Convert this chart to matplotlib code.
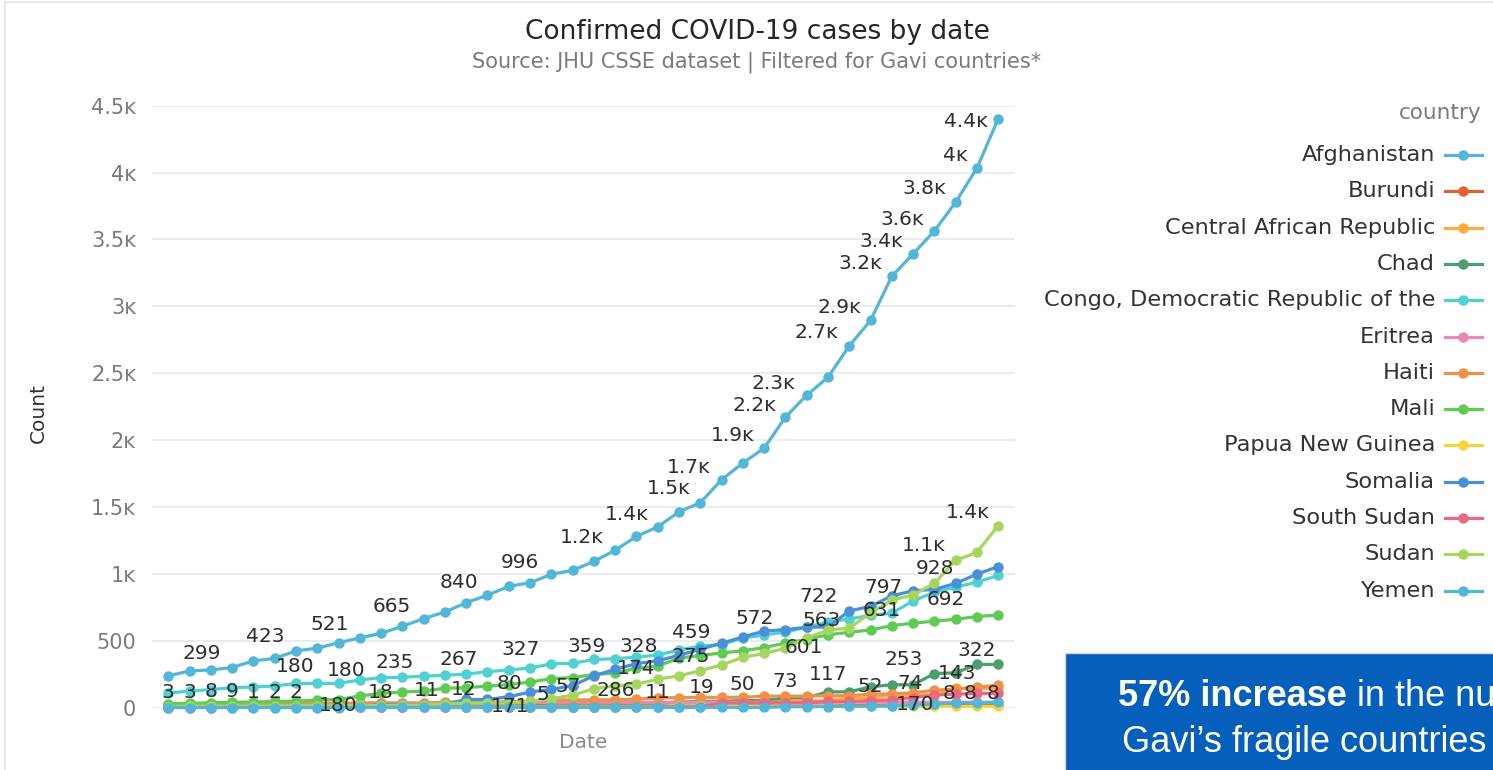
import numpy as np
import matplotlib
matplotlib.use("Agg")
import matplotlib.pyplot as plt
from matplotlib.lines import Line2D
from matplotlib.patches import Rectangle

plt.rcParams['font.family'] = ['DejaVu Sans']

# daily cumulative confirmed cases, Apr 1 .. May 10
countries = ["Afghanistan", "Burundi", "Central African Republic", "Chad",
             "Congo, Democratic Republic of the", "Eritrea", "Haiti", "Mali",
             "Papua New Guinea", "Somalia", "South Sudan", "Sudan", "Yemen"]
colors = ["#52b6d9", "#e2612f", "#ffab3d", "#4c9e6f", "#4fd0d2", "#e78bb6",
          "#f09149", "#5ecb53", "#f4d53e", "#4a8fd9", "#ea697e", "#a6d65d", "#52b6d9"]

afghanistan = [237, 273, 281, 299, 349, 367, 423, 444, 484, 521, 555, 607, 665, 714, 784, 840,
               906, 933, 996, 1026, 1092, 1176, 1279, 1351, 1463, 1531, 1703, 1828, 1939, 2171,
               2335, 2469, 2704, 2894, 3224, 3392, 3563, 3778, 4033, 4402]
burundi = [3, 3, 3, 3, 3, 3, 3, 3, 3, 3, 5, 5, 5, 5, 5, 5, 5, 5, 5, 5, 5, 5, 11, 11, 11, 11,
           11, 11, 11, 11, 11, 11, 15, 15, 15, 15, 15, 19, 19, 19]
car = [8, 8, 8, 9, 9, 9, 9, 9, 9, 9, 11, 11, 11, 11, 12, 12, 12, 12, 12, 12, 12, 14, 14, 16,
       16, 19, 19, 50, 50, 50, 50, 50, 72, 72, 94, 94, 94, 143, 143, 143]
chad = [8, 9, 9, 9, 9, 9, 10, 10, 10, 11, 18, 18, 18, 18, 23, 23, 23, 27, 33, 33, 33, 33, 33,
        33, 40, 46, 46, 52, 52, 73, 73, 117, 117, 155, 170, 170, 253, 260, 322, 322]
congo = [109, 123, 134, 148, 154, 161, 180, 180, 180, 206, 223, 226, 235, 241, 250, 267, 282,
         294, 327, 330, 359, 365, 377, 392, 430, 459, 471, 519, 542, 564, 600, 640, 661, 691,
         705, 797, 863, 900, 937, 988]
eritrea = [15, 18, 22, 22, 29, 29, 29, 31, 31, 33, 34, 34, 34, 34, 35, 35, 35, 35, 39, 39, 39,
           39, 39, 39, 39, 39, 39, 39, 39, 39, 39, 39, 39, 39, 39, 39, 39, 39, 39, 39]
haiti = [15, 16, 18, 21, 21, 24, 24, 25, 30, 31, 33, 33, 33, 40, 40, 40, 43, 47, 57, 57, 57, 58,
         62, 72, 74, 76, 76, 76, 85, 85, 85, 88, 88, 100, 101, 110, 129, 138, 151, 168]
mali = [28, 31, 36, 39, 41, 45, 47, 56, 59, 87, 105, 116, 123, 144, 148, 160, 171, 190, 216,
        224, 246, 258, 293, 309, 370, 389, 408, 424, 448, 482, 508, 544, 563, 580, 612, 631,
        645, 660, 680, 692]
png = [1, 1, 1, 1, 1, 2, 2, 2, 2, 2, 2, 2, 2, 2, 2, 2, 7, 7, 7, 7, 7, 7, 7, 7, 8, 8, 8, 8, 8,
       8, 8, 8, 8, 8, 8, 8, 8, 8, 8, 8]
somalia = [5, 5, 7, 7, 7, 7, 7, 7, 12, 12, 21, 21, 21, 25, 60, 60, 80, 116, 135, 164, 237, 286,
           328, 350, 390, 436, 480, 528, 572, 582, 601, 601, 722, 756, 835, 873, 883, 928, 997,
           1054]
south_sudan = [0, 0, 0, 0, 1, 1, 1, 1, 1, 2, 3, 4, 4, 4, 4, 4, 4, 4, 4, 4, 4, 4, 4, 5, 5, 6,
               34, 34, 34, 35, 35, 45, 46, 52, 58, 74, 94, 100, 106, 106]
sudan = [7, 10, 10, 10, 10, 12, 12, 14, 14, 15, 15, 17, 19, 29, 32, 32, 33, 45, 66, 92, 140,
         162, 174, 212, 237, 275, 318, 375, 405, 442, 519, 579, 594, 706, 803, 841, 928, 1100,
         1160, 1360]
yemen = [0, 0, 0, 0, 0, 0, 0, 0, 0, 1, 1, 1, 1, 1, 1, 1, 1, 1, 1, 1, 1, 1, 1, 1, 1, 1, 1, 1, 1,
         6, 6, 7, 10, 10, 12, 21, 25, 34, 34, 40]

series = [afghanistan, burundi, car, chad, congo, eritrea, haiti, mali, png, somalia,
          south_sudan, sudan, yemen]

# data labels: (country index, point index, dx px, dy px)
labels = [
    (0, 3, -30, 14), (0, 6, -31, 14), (0, 9, -30, 13), (0, 12, -32, 12), (0, 15, -29, 13),
    (0, 18, -31, 12), (0, 21, -33, 13), (0, 23, -31, 12), (0, 25, -32, 14), (0, 26, -33, 12),
    (0, 28, -31, 13), (0, 29, -31, 12), (0, 30, -33, 12), (0, 32, -33, 13), (0, 33, -31, 13),
    (0, 34, -31, 13), (0, 35, -32, 12), (0, 36, -32, 12), (0, 37, -31, 14), (0, 38, -22, 13),
    (0, 39, -32, -3),
    (1, 0, 0, 15), (1, 1, 0, 15), (2, 2, 0, 15), (2, 3, 0, 15), (8, 4, 0, 15), (8, 5, 0, 15),
    (8, 6, 0, 15),
    (4, 6, -1, 17), (4, 7, 21, -22), (4, 8, 8, 13), (3, 10, 0, 13), (2, 12, 3, 16),
    (2, 14, -3, 16), (4, 12, -29, 14), (4, 15, -29, 12), (4, 18, -31, 14), (9, 16, 1, 13),
    (7, 16, 1, -22), (1, 18, -8, 12), (6, 19, -4, 13), (4, 20, -7, 13), (9, 21, 1, -21),
    (9, 22, 2, 17), (11, 22, 0, 16), (1, 23, 0, 14), (2, 25, 1, 17), (4, 25, -9, 14),
    (11, 25, -10, 14), (2, 27, -1, 16), (9, 28, -9, 13), (3, 29, 0, 16), (9, 30, -3, -20),
    (3, 31, 0, 17), (9, 32, -31, 14), (7, 32, -28, 12), (10, 33, 0, 14), (3, 35, 2, -20),
    (10, 35, -3, 14), (3, 36, -31, 14), (4, 35, -30, 13), (7, 35, -31, 13), (11, 36, 1, 15),
    (11, 37, -32, 15), (2, 37, 1, 15), (8, 37, -7, 13), (8, 38, -7, 13), (8, 39, -5, 13),
    (3, 38, 0, 14), (7, 39, -52, 15), (11, 39, -30, 13),
]


def fmt(v):
    if v >= 1000:
        return f"{v / 1000:.1f}".rstrip("0").rstrip(".") + "\u1d0b"
    return str(v)


W, H = 1493, 770
fig = plt.figure(figsize=(W / 100, H / 100), dpi=100)

# outer frame
fig.patches.append(Rectangle((5 / W, -0.05), 1.2, 1.05 - 2 / H, transform=fig.transFigure,
                             fill=False, ec="#e4e9f0", lw=1.5))

ax = fig.add_axes([151.5 / W, 1 - 707.5 / H, (1015 - 151.5) / W, (707.5 - 105.7) / H])
for name, vals, c in zip(countries, series, colors):
    x = np.arange(len(vals))
    ax.plot(x, vals, color=c, lw=2.3, marker="o", ms=6.5, clip_on=False, label=name)

for ci, i, dx, dy in labels:
    v = series[ci][i]
    ax.annotate(fmt(v), (i, v), xytext=(dx, dy), textcoords="offset pixels",
                ha="center", va="center", fontsize=14.5, color="#2e2e2e")

ax.set_xlim(-0.79, 39.79)
ax.set_ylim(0, 4500)
yt = np.arange(0, 4501, 500)
ax.set_yticks(yt)
ax.set_yticklabels([fmt(int(t)) for t in yt], fontsize=15, color="#7a7a7a")
ax.set_xticks([])
ax.tick_params(axis="y", length=0, pad=11)
ax.grid(axis="y", color="#e5eaf0", lw=1.3)
ax.set_axisbelow(True)
for s in ax.spines.values():
    s.set_visible(False)

ax.set_xlabel("Date", fontsize=14.5, color="#8a8a8a", labelpad=18)
ax.set_ylabel("Count", fontsize=14.5, color="#333333")
ax.yaxis.set_label_coords(-0.12, 0.49)

fig.text(757 / W, 1 - 32 / H, "Confirmed COVID-19 cases by date", ha="center", va="center",
         fontsize=19, color="#262626")
fig.text(757 / W, 1 - 62 / H, "Source: JHU CSSE dataset | Filtered for Gavi countries*",
         ha="center", va="center", fontsize=15, color="#7a7a7a")

# legend drawn on the right, text right-aligned with the handle after it
fig.text(1482 / W, 1 - 113 / H, "country", ha="right", va="center", fontsize=15.5,
         color="#7a7a7a")
for k, (name, c) in enumerate(zip(countries, colors)):
    y = 1 - (155 + 36.3 * k) / H
    fig.text(1435 / W, y, name, ha="right", va="center", fontsize=16.2, color="#333333")
    fig.add_artist(Line2D([1445 / W, 1482 / W], [y, y], color=c, lw=2.3))
    fig.add_artist(Line2D([1463 / W], [y], color=c, marker="o", ms=6.5))

# callout box from the slide
fig.patches.append(Rectangle((1065 / W, -0.05), 0.4, 0.05 + 1 - 653 / H,
                             transform=fig.transFigure, fc="#065fba", ec="#cfd8e3", lw=1))
t1 = fig.text(1118 / W, 1 - 697 / H, "57% increase", ha="left", va="center",
              fontsize=26, fontweight="bold", color="white", family="Liberation Sans")
fig.canvas.draw()
bb = t1.get_window_extent(fig.canvas.get_renderer())
fig.text(bb.x1 / W, 1 - 697 / H, " in the nu", ha="left", va="center", fontsize=26,
         color="white", family="Liberation Sans")
fig.text(1122 / W, 1 - 742 / H, "Gavi\u2019s fragile countries", ha="left", va="center",
         fontsize=26, color="white", family="Liberation Sans")

fig.savefig("out.png", dpi=100)
